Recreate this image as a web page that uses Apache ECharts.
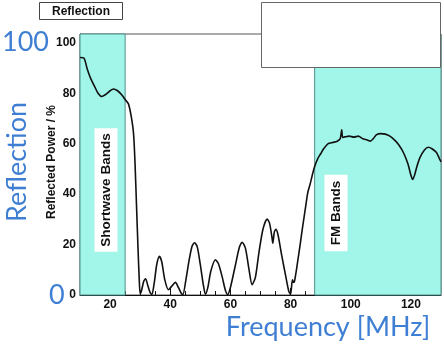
<!DOCTYPE html>
<html>
<head>
<meta charset="utf-8">
<script src="https://cdn.jsdelivr.net/npm/echarts@6/dist/echarts.min.js"></script>
<style>
html,body{margin:0;padding:0;background:#fff;}
#chart{width:444px;height:345px;}
</style>
</head>
<body>
<div id="chart"></div>
<script>
// Data
const freqMHz = [10,11.3,12.4,13.5,15,16,17.2,18.5,20,21.1,22.5,24,25,26.1,27,27.8,28.3,28.8,29.3,29.7,30,30.5,31.2,31.8,32.5,33.3,33.9,34.7,35.5,36.4,37.2,38.2,39.4,40.5,41.7,42.7,43.6,44.2,45.2,46.3,47.3,48.1,49,50,51,51.7,52.5,53.5,55,56,57.3,58.3,59.1,60,61.5,63,63.9,65,66.2,67.2,68.3,69.5,70.8,72.2,73,73.8,74.1,74.6,75.1,75.8,77,78.3,79.4,80,80.6,81,81.3,82.2,83.3,84,85,85.7,86.5,87.3,88,89,90,91,92.5,94,95.5,96.5,97,97.3,98,99.5,101,102.5,104,105.5,106.5,107.5,108.5,110,111.5,113,114.5,116,117.5,119,120,120.6,121.2,122,123,124.5,125.8,127,128.5,129.5,130];
const reflectedPct = [94.2,94,89.6,86,82.3,80,78.7,79.5,81,81.7,81,79.2,77.5,75.8,71,64,52,35,18,6,0.5,2,5.5,6.4,4,1,0.2,5,12,15.3,13,6,2.1,3.5,5,3,0.8,0.2,6,14,19.5,20.7,19,12,4,0.3,3,9.5,14,12.5,7,2,0.2,3,11,19,20.9,18.5,10,4.1,7,17,26,30.1,28.5,23,20.5,25,26.1,24,16,8,1.5,0.3,6,5,5.4,12,21,27,35,40.5,44,48,51,54,56,58,60,60.5,61,62,65.5,62.5,62.7,63,62.6,63,62,61.5,61,62,63.5,64,63.8,63,61.5,59.5,56.5,52,47.5,45.8,47.5,51,54.5,57.5,58.6,58,56.5,54,52.8];
const xMajorTicks = [20,40,60,80,100,120];
const xMinorTicks = [15,20,25,30,35,40,45,50,55,60,65,70,75,80,85,90,95,100,105,110,115,120,125];
const yMajorTicks = [0,20,40,60,80,100];
const yMinorTicks = [5,10,15,20,25,30,35,40,45,50,55,60,65,70,75,80,85,90,95,100];
const bandShortwave = [10,25];
const bandFM = [88,130];
const bandNames = ['Shortwave Bands','FM Bands'];

const seriesData = freqMHz.map((f,i)=>[f,reflectedPct[i]]);
const blue = '#3f7fd3';
const cyan = '#a2f6e9';
const bigFont = 'Lato, "Open Sans", sans-serif';
const axFont = '"Liberation Sans", Arial, sans-serif';

const chart = echarts.init(document.getElementById('chart'), null, {renderer:'canvas'});
const axisCommon = {type:'value', splitLine:{show:false}};
chart.setOption({
  animation:false,
  backgroundColor:'#fff',
  grid:{left:80, top:34, right:3, bottom:50, show:true, borderColor:'#555', borderWidth:1, backgroundColor:'transparent'},
  xAxis:[
    Object.assign({}, axisCommon, {min:10, max:130, position:'bottom',
      axisLine:{show:true, onZero:false, lineStyle:{color:'#111', width:1}},
      axisTick:{show:true, inside:true, length:7, customValues:xMajorTicks, lineStyle:{color:'#111'}},
      axisLabel:{customValues:xMajorTicks, color:'#111', fontWeight:'bold', fontSize:12, fontFamily:axFont, margin:4}}),
    Object.assign({}, axisCommon, {min:10, max:130, position:'bottom',
      axisLine:{show:false},
      axisTick:{show:true, inside:true, length:4, customValues:xMinorTicks, lineStyle:{color:'#111'}},
      axisLabel:{show:false}})
  ],
  yAxis:[
    Object.assign({}, axisCommon, {min:0, max:103.5, position:'left',
      axisLine:{show:true, onZero:false, lineStyle:{color:'#111', width:1}},
      axisTick:{show:true, inside:true, length:8, customValues:yMajorTicks, lineStyle:{color:'#111'}},
      axisLabel:{customValues:yMajorTicks, color:'#111', fontWeight:'bold', fontSize:12, fontFamily:axFont, margin:4}}),
    Object.assign({}, axisCommon, {min:0, max:103.5, position:'left',
      axisLine:{show:false},
      axisTick:{show:true, inside:true, length:5, customValues:yMinorTicks, lineStyle:{color:'#111'}},
      axisLabel:{show:false}})
  ],
  series:[{
    type:'line', xAxisIndex:0, yAxisIndex:0, data:seriesData,
    showSymbol:false, smooth:0.25, z:5,
    lineStyle:{color:'#111', width:1.6},
    markArea:{silent:true,
      itemStyle:{color:cyan, borderColor:'#4d8f8a', borderWidth:1},
      data:[[{xAxis:bandShortwave[0]},{xAxis:bandShortwave[1]}],[{xAxis:bandFM[0]},{xAxis:bandFM[1]}]]}
  }],
  graphic:[
    {type:'rect', z:100, shape:{x:39.5, y:2.5, width:83, height:17}, style:{fill:'#fff', stroke:'#444', lineWidth:1}},
    {type:'text', z:101, x:81, y:11.5, style:{text:'Reflection', fontSize:12, fontWeight:'bold', fontFamily:axFont, fill:'#111', align:'center', verticalAlign:'middle'}},
    {type:'rect', z:100, shape:{x:261.5, y:2.5, width:179, height:65}, style:{fill:'#fff', stroke:'#666', lineWidth:1}},
    {type:'text', z:101, x:106, y:190, rotation:Math.PI/2, style:{text:bandNames[0], fontSize:13.5, fontWeight:'bold', fontFamily:axFont, fill:'#111', align:'center', verticalAlign:'middle', backgroundColor:'#fff', padding:[5,5,4,5]}},
    {type:'text', z:101, x:336, y:213, rotation:Math.PI/2, style:{text:bandNames[1], fontSize:13.5, fontWeight:'bold', fontFamily:axFont, fill:'#111', align:'center', verticalAlign:'middle', backgroundColor:'#fff', padding:[5,6,4,6]}},
    {type:'text', z:101, x:52, y:162, rotation:Math.PI/2, style:{text:'Reflected Power / %', fontSize:12, fontWeight:'bold', fontFamily:axFont, fill:'#111', align:'center', verticalAlign:'middle'}},
    {type:'text', z:101, x:2, y:42, style:{text:'100', fontSize:27, fontFamily:bigFont, fill:blue, align:'left', verticalAlign:'middle'}},
    {type:'text', z:101, x:49, y:295, style:{text:'0', fontSize:27, fontFamily:bigFont, fill:blue, align:'left', verticalAlign:'middle'}},
    {type:'text', z:101, x:17, y:162, rotation:Math.PI/2, style:{text:'Reflection', fontSize:27, fontFamily:bigFont, fill:blue, align:'center', verticalAlign:'middle'}},
    {type:'text', z:101, x:328, y:327, style:{text:'Frequency [MHz]', fontSize:27, fontFamily:bigFont, fill:blue, align:'center', verticalAlign:'middle'}}
  ]
});
</script>
</body>
</html>
